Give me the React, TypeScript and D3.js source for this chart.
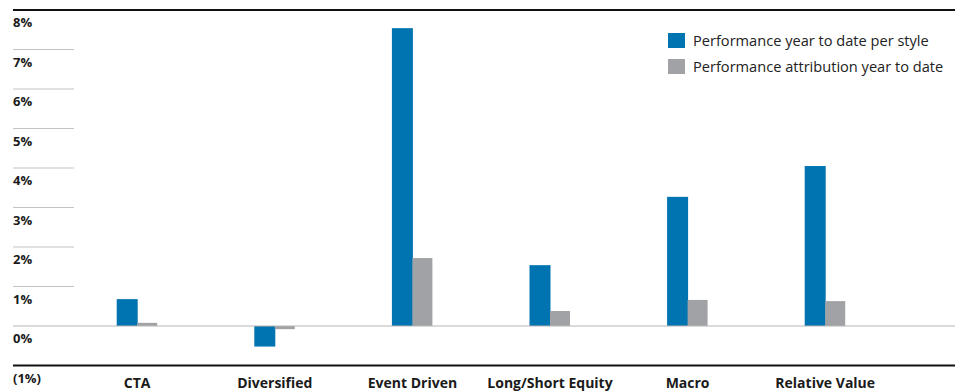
import React from "react";
import * as d3 from "d3";

const categories = ["CTA", "Diversified", "Event Driven", "Long/Short Equity", "Macro", "Relative Value"];
const perfStyle = [0.68, -0.52, 7.54, 1.54, 3.27, 4.05];
const perfAttribution = [0.08, -0.08, 1.72, 0.38, 0.66, 0.63];
const tickValues = [8, 7, 6, 5, 4, 3, 2, 1, 0, -1];
const tickLabels = ["8%", "7%", "6%", "5%", "4%", "3%", "2%", "1%", "0%", "(1%)"];
const seriesNames = ["Performance year to date per style", "Performance attribution year to date"];

const W = 955;
const H = 392;
const BLUE = "#0073b1";
const GRAY = "#a1a2a6";
const FONT = "'Open Sans', sans-serif";

export default function App() {
  const y = d3.scaleLinear().domain([-1, 8]).range([365.5, 10]);
  const x = d3.scaleBand<string>().domain(categories).range([68.4, 894]).padding(0);
  const inner = d3.scaleBand<number>().domain([0, 1]).range([0, 41]).padding(0);
  const cx = (c: string) => (x(c) as number) + x.bandwidth() / 2;
  const series = [perfStyle, perfAttribution];
  const colors = [BLUE, GRAY];

  return (
    <svg width={W} height={H} style={{ position: "absolute", left: 0, top: 0, background: "#fff" }}>
      {tickValues.filter((v) => v > 0 && v < 8).map((v) => (
        <line key={"g" + v} x1={13} x2={74} y1={y(v)} y2={y(v)} stroke="#c4c4c4" strokeWidth={1.2} />
      ))}
      {series.map((s, si) =>
        s.map((v, i) => {
          const c = categories[i];
          const bx = cx(c) - 20.5 + (inner(si) as number);
          const y0 = y(0);
          const yv = y(v);
          return (
            <rect key={si + "-" + i} x={bx} width={si === 0 ? 21 : 20} y={Math.min(y0, yv)} height={Math.abs(yv - y0)} fill={colors[si]} />
          );
        })
      )}
      <line x1={13} x2={W} y1={y(0)} y2={y(0)} stroke="#b5b5b5" strokeWidth={1.2} />
      <line x1={13} x2={W} y1={y(8)} y2={y(8)} stroke="#111" strokeWidth={2} />
      <line x1={13} x2={W} y1={y(-1)} y2={y(-1)} stroke="#111" strokeWidth={2} />
      {tickValues.map((v, i) => (
        <text key={"t" + v} x={13} y={y(v) + 17} fontFamily={FONT} fontWeight="bold" fontSize={13} fill="#1a1a1a">
          {tickLabels[i]}
        </text>
      ))}
      {categories.map((c) => (
        <text key={c} x={cx(c)} y={388} textAnchor="middle" fontFamily={FONT} fontWeight="bold" fontSize={14} fill="#1a1a1a">
          {c}
        </text>
      ))}
      {seriesNames.map((n, i) => (
        <g key={n} transform={`translate(668, ${33 + i * 26})`}>
          <rect x={0} y={0} width={17} height={15} fill={colors[i]} />
          <text x={25} y={12.5} fontFamily={FONT} fontSize={14.6} fill="#222">
            {n}
          </text>
        </g>
      ))}
    </svg>
  );
}
